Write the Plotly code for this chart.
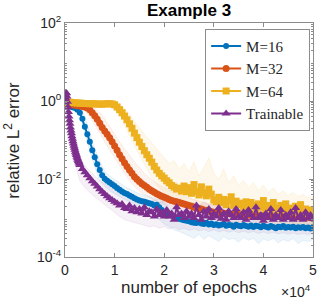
import plotly.graph_objects as go

# ---------------- data ----------------
EPOCHS = list(range(0, 50001, 500))
BAND_EPOCHS = list(range(0, 50001, 1000))
TRAIN_EPOCHS = list(range(0, 3001, 100)) + list(range(3500, 50001, 500))

M16 = [0.80, 0.76, 0.72, 0.69, 0.66, 0.60, 0.50, 0.35, 0.22, 0.14, 0.09,
       0.055, 0.036, 0.024, 0.017, 0.0125, 0.0102, 0.0090, 0.0081, 0.0073, 0.0066,
       0.0059, 0.0053, 0.0048, 0.0044, 0.0041, 0.0038, 0.0035, 0.0032, 0.0030, 0.0028,
       0.0027, 0.0026, 0.0025, 0.0024, 0.0023, 0.0021, 0.0022, 0.0019, 0.0016, 0.0014,
       0.0013, 0.0012, 0.00115, 0.0011, 0.001, 0.00096, 0.00092, 0.00088, 0.00085, 0.00082,
       0.00078, 0.00076, 0.00074, 0.00078, 0.00072, 0.0007, 0.00075, 0.00068, 0.00072, 0.00066,
       0.00069, 0.00064, 0.00067, 0.0007, 0.00063, 0.00066, 0.00065, 0.0006, 0.00067, 0.00063,
       0.00061, 0.00066, 0.00062, 0.0006, 0.00064, 0.00059, 0.00063, 0.00061, 0.00058, 0.00063,
       0.0006, 0.00057, 0.00062, 0.00059, 0.00055, 0.0006, 0.00058, 0.00062, 0.00056, 0.00059,
       0.00057, 0.0006, 0.00055, 0.00058, 0.00056, 0.00059, 0.00055, 0.00057, 0.00054, 0.00058]

M32 = [0.85, 0.84, 0.82, 0.80, 0.78, 0.76, 0.74, 0.72, 0.70, 0.66, 0.60,
       0.50, 0.42, 0.34, 0.27, 0.21, 0.17, 0.14, 0.115, 0.09, 0.07,
       0.055, 0.042, 0.033, 0.026, 0.021, 0.017, 0.014, 0.0115, 0.0098, 0.0086,
       0.0076, 0.0068, 0.0061, 0.0055, 0.005, 0.0046, 0.0042, 0.0039, 0.0036, 0.0034,
       0.0032, 0.003, 0.0028, 0.0027, 0.0026, 0.0025, 0.0024, 0.0023, 0.0022, 0.0021,
       0.002, 0.0019, 0.0018, 0.00175, 0.0017, 0.0016, 0.00155, 0.0015, 0.00145, 0.0014,
       0.00138, 0.00135, 0.0013, 0.00133, 0.00128, 0.0013, 0.00125, 0.00127, 0.00122, 0.00125,
       0.0012, 0.00123, 0.00118, 0.0012, 0.00117, 0.00119, 0.00115, 0.00118, 0.00113, 0.00116,
       0.00112, 0.00115, 0.0011, 0.00113, 0.00109, 0.00112, 0.00108, 0.0011, 0.00107, 0.0011,
       0.00106, 0.00109, 0.00105, 0.00108, 0.00104, 0.00107, 0.00103, 0.00106, 0.00102, 0.00105]

M64 = [0.90, 0.95, 0.93, 0.91, 0.90, 0.89, 0.88, 0.87, 0.86, 0.86, 0.85,
       0.85, 0.84, 0.84, 0.83, 0.83, 0.84, 0.85, 0.85, 0.84, 0.80,
       0.70, 0.60, 0.50, 0.41, 0.33, 0.26, 0.20, 0.15, 0.115, 0.088,
       0.068, 0.053, 0.042, 0.034, 0.027, 0.021, 0.017, 0.014, 0.012, 0.0105,
       0.009, 0.008, 0.0068, 0.0062, 0.0055, 0.0058, 0.0049, 0.0066, 0.0047, 0.006,
       0.0043, 0.0072, 0.0048, 0.0039, 0.0063, 0.0044, 0.0037, 0.0055, 0.0041, 0.0029,
       0.0026, 0.0034, 0.0025, 0.003, 0.0022, 0.0028, 0.0035, 0.0021, 0.0027, 0.0022,
       0.0024, 0.0019, 0.0026, 0.0018, 0.0025, 0.0021, 0.0017, 0.0023, 0.0019, 0.0028,
       0.0017, 0.0021, 0.0016, 0.0025, 0.0018, 0.0015, 0.0021, 0.0016, 0.0023, 0.0015,
       0.0018, 0.0014, 0.002, 0.0015, 0.0022, 0.0014, 0.0017, 0.0013, 0.0016, 0.0014]

TRAINABLE = [0.9, 1.2, 1.55, 1.6, 1.3, 0.95, 0.7, 0.52, 0.4, 0.32, 0.26,
             0.21, 0.175, 0.148, 0.125, 0.107, 0.093, 0.081, 0.071, 0.063, 0.056,
             0.05, 0.045, 0.041, 0.037, 0.034, 0.031, 0.029, 0.027, 0.025, 0.023,
             0.018, 0.015, 0.0125, 0.0105, 0.0088, 0.0075, 0.0064, 0.0055, 0.0047, 0.0041,
             0.0036, 0.0032, 0.0029, 0.0026,
             0.0024, 0.0021, 0.0023, 0.0018, 0.0017, 0.0021, 0.0015, 0.0018, 0.0014, 0.0017,
             0.0013, 0.0019, 0.0012, 0.0015, 0.0014, 0.0011, 0.0017, 0.0012, 0.0014, 0.0011,
             0.0016, 0.0011, 0.0013, 0.0009, 0.0019, 0.0012, 0.0013, 0.001, 0.0015, 0.0011,
             0.0013, 0.001, 0.0021, 0.0012, 0.0009, 0.0015, 0.0011, 0.0017, 0.001, 0.0013,
             0.0011, 0.0018, 0.00095, 0.0013, 0.0009, 0.0015, 0.0012, 0.001, 0.0017, 0.0011,
             0.001, 0.0014, 0.0009, 0.0016, 0.0012, 0.001, 0.0019, 0.001, 0.0012, 0.00085,
             0.0013, 0.001, 0.0017, 0.0009, 0.0012, 0.001, 0.0016, 0.0009, 0.0012, 0.001,
             0.0014, 0.0009, 0.0018, 0.001, 0.0012, 0.0009, 0.0014, 0.001, 0.0012, 0.00095]

# spread bands (min / max over runs), sampled every 1000 epochs
M16_HI = [0.9, 0.8, 0.75, 0.7, 0.4, 0.15, 0.06, 0.03, 0.016, 0.012, 0.01, 0.008, 0.0065, 0.0055,
          0.0048, 0.0042, 0.0038, 0.0035, 0.0032, 0.003, 0.0025, 0.0018, 0.0016, 0.0014, 0.0013,
          0.0012, 0.0013, 0.0011, 0.0012, 0.001, 0.0011, 0.0012, 0.001, 0.0011, 0.001, 0.0012,
          0.001, 0.0011, 0.0009, 0.001, 0.0011, 0.0009, 0.001, 0.0009, 0.0011, 0.0009, 0.001,
          0.0009, 0.001, 0.0009, 0.001]
M16_LO = [0.7, 0.65, 0.6, 0.45, 0.15, 0.05, 0.02, 0.009, 0.0065, 0.005, 0.0042, 0.0035, 0.003,
          0.0026, 0.0022, 0.0019, 0.0017, 0.0015, 0.0012, 0.0009, 0.0007, 0.0006, 0.0005, 0.00045,
          0.0004, 0.00035, 0.0003, 0.00038, 0.00028, 0.00035, 0.0003, 0.00025, 0.00033, 0.00028,
          0.0003, 0.00024, 0.00032, 0.00027, 0.0003, 0.00022, 0.00029, 0.00026, 0.0003, 0.00023,
          0.00028, 0.00025, 0.0003, 0.00022, 0.00027, 0.00025, 0.00028]
M32_HI = [0.95, 0.9, 0.86, 0.82, 0.8, 0.75, 0.65, 0.5, 0.35, 0.22, 0.14, 0.09, 0.06, 0.04, 0.028,
          0.02, 0.014, 0.011, 0.0085, 0.007, 0.006, 0.0052, 0.0045, 0.004, 0.0036, 0.0032, 0.003,
          0.0027, 0.0025, 0.0023, 0.0021, 0.002, 0.0019, 0.0018, 0.0019, 0.0017, 0.0016, 0.0017,
          0.0015, 0.0016, 0.0015, 0.0014, 0.0016, 0.0014, 0.0015, 0.0013, 0.0015, 0.0014, 0.0013,
          0.0014, 0.0013]
M32_LO = [0.75, 0.72, 0.7, 0.65, 0.55, 0.4, 0.25, 0.15, 0.09, 0.055, 0.035, 0.022, 0.014, 0.009,
          0.0065, 0.005, 0.004, 0.0034, 0.0029, 0.0025, 0.0022, 0.002, 0.0018, 0.0016, 0.0015,
          0.0014, 0.0012, 0.0011, 0.001, 0.00095, 0.0009, 0.00085, 0.0008, 0.00082, 0.00078,
          0.0008, 0.00075, 0.00078, 0.00072, 0.00075, 0.0007, 0.00073, 0.0007, 0.00072, 0.00068,
          0.0007, 0.00067, 0.0007, 0.00066, 0.00069, 0.00066]
M64_HI = [1.0, 1.05, 1.0, 0.98, 0.97, 0.96, 0.95, 0.95, 0.96, 0.97, 0.95, 0.85, 0.65, 0.45, 0.3,
          0.2, 0.14, 0.1, 0.07, 0.05, 0.035, 0.025, 0.03, 0.018, 0.025, 0.015, 0.028, 0.012, 0.02,
          0.035, 0.014, 0.01, 0.018, 0.008, 0.012, 0.007, 0.009, 0.006, 0.008, 0.005, 0.007, 0.0045,
          0.006, 0.004, 0.005, 0.0038, 0.0045, 0.0035, 0.004, 0.0033, 0.0035]
M64_LO = [0.8, 0.85, 0.83, 0.8, 0.78, 0.76, 0.75, 0.74, 0.74, 0.72, 0.65, 0.45, 0.25, 0.13, 0.07,
          0.04, 0.024, 0.014, 0.009, 0.006, 0.0045, 0.0035, 0.003, 0.0028, 0.0026, 0.0025, 0.0024,
          0.0022, 0.0021, 0.0018, 0.0016, 0.0014, 0.0013, 0.0012, 0.0011, 0.00105, 0.001, 0.00095,
          0.0009, 0.00088, 0.00085, 0.00082, 0.0008, 0.00078, 0.00076, 0.00075, 0.00073, 0.00072,
          0.0007, 0.0007, 0.00068]
TR_HI = [1.8, 0.35, 0.08, 0.035, 0.022, 0.016, 0.012, 0.009, 0.0075, 0.0062, 0.0052, 0.0045, 0.004,
         0.0035, 0.0033, 0.003, 0.0032, 0.0027, 0.0029, 0.0025, 0.0028, 0.0024, 0.0026, 0.0023,
         0.0027, 0.0022, 0.0025, 0.0021, 0.0026, 0.0022, 0.0024, 0.002, 0.0025, 0.0021, 0.0023,
         0.002, 0.0024, 0.0021, 0.0022, 0.0019, 0.0023, 0.002, 0.0022, 0.0019, 0.0021, 0.0019,
         0.0022, 0.0019, 0.0021, 0.0019, 0.002]
TR_LO = [0.6, 0.12, 0.025, 0.009, 0.006, 0.0045, 0.0035, 0.0028, 0.0022, 0.0018, 0.0014, 0.0011,
         0.0009, 0.0008, 0.00075, 0.0007, 0.00065, 0.0006, 0.00062, 0.00055, 0.0006, 0.00052,
         0.00058, 0.0005, 0.00055, 0.00048, 0.00052, 0.00047, 0.0005, 0.00045, 0.0005, 0.00044,
         0.00048, 0.00043, 0.00047, 0.00042, 0.00046, 0.00042, 0.00045, 0.0004, 0.00044, 0.0004,
         0.00043, 0.00039, 0.00042, 0.00039, 0.00041, 0.00038, 0.0004, 0.00038, 0.0004]

X_TICKS = [0, 10000, 20000, 30000, 40000, 50000]
X_TICKTEXT = ["0", "1", "2", "3", "4", "5"]
Y_TICKS = [1e-4, 1e-2, 1e0, 1e2]
Y_TICKTEXT = ["10<sup>-4</sup>", "10<sup>-2</sup>", "10<sup>0</sup>", "10<sup>2</sup>"]

# ---------------- figure ----------------
C16, C32, C64, CTR = "#0072BD", "#D95319", "#EDB120", "#7E2F8E"

series = [
    ("M=16", M16, EPOCHS, M16_HI, M16_LO, C16, "rgba(0,114,189,0.07)", "rgba(0,114,189,0.14)", "circle", 6),
    ("M=32", M32, EPOCHS, M32_HI, M32_LO, C32, "rgba(217,83,25,0.07)", "rgba(217,83,25,0.14)", "circle", 7),
    ("M=64", M64, EPOCHS, M64_HI, M64_LO, C64, "rgba(237,177,32,0.09)", "rgba(237,177,32,0.18)", "square", 7),
    ("Trainable", TRAINABLE, TRAIN_EPOCHS, TR_HI, TR_LO, CTR, "rgba(126,47,142,0.07)", "rgba(126,47,142,0.14)", "triangle-up", 8),
]

fig = go.Figure()
for name, vals, ep, hi, lo, col, fillc, edgec, sym, msz in series:
    fig.add_trace(go.Scatter(
        x=BAND_EPOCHS + BAND_EPOCHS[::-1], y=hi + lo[::-1],
        fill="toself", fillcolor=fillc, mode="lines",
        line=dict(color=edgec, width=0.6), hoverinfo="skip", showlegend=False))

for name, vals, ep, hi, lo, col, fillc, edgec, sym, msz in series:
    fig.add_trace(go.Scatter(
        x=ep, y=vals, name=name, mode="lines+markers",
        line=dict(color=col, width=2),
        marker=dict(symbol=sym, size=msz, color=col, line=dict(width=0))))

axis_common = dict(showline=True, linecolor="#8c8c8c", linewidth=1, mirror="ticks",
                   ticks="inside", tickcolor="#8c8c8c", showgrid=False, zeroline=False,
                   automargin=False,
                   tickfont=dict(family="Liberation Sans, Arial", size=14, color="#262626"))

fig.update_layout(
    width=319, height=303,
    margin=dict(l=65, r=6, t=22.5, b=45.5, autoexpand=False),
    paper_bgcolor="white", plot_bgcolor="white",
    showlegend=True,
    legend=dict(x=0.565, y=0.975, xanchor="left", yanchor="top",
                bgcolor="white", bordercolor="#8c8c8c", borderwidth=1,
                font=dict(family="Liberation Serif, Times New Roman", size=15, color="#262626"),
                itemwidth=30, tracegroupgap=0),
    xaxis=dict(range=[0, 50000], tickvals=X_TICKS, ticktext=X_TICKTEXT, ticklen=4, **axis_common),
    yaxis=dict(type="log", range=[-4, 2], tickvals=Y_TICKS, ticktext=Y_TICKTEXT, ticklen=4,
               minor=dict(tickvals=[m * 10 ** k for k in range(-4, 2) for m in range(2, 10)],
                          ticks="inside", ticklen=2, tickcolor="#8c8c8c"),
               **axis_common),
    annotations=[
        dict(text="<b>Example 3</b>", xref="paper", yref="paper", x=0.5, y=1.0, yshift=13,
             xanchor="center", yanchor="middle", showarrow=False,
             font=dict(family="Liberation Sans, Arial", size=17, color="#000000")),
        dict(text="number of epochs", xref="paper", yref="paper", x=0.5, y=-0.13,
             xanchor="center", yanchor="middle", showarrow=False,
             font=dict(family="Liberation Sans, Arial", size=17, color="#262626")),
        dict(text="×10<sup>4</sup>", xref="paper", yref="paper", x=1.0, y=-0.145,
             xanchor="right", yanchor="middle", showarrow=False,
             font=dict(family="Liberation Sans, Arial", size=14, color="#262626")),
        dict(text="relative L<sup>2</sup> error", xref="paper", yref="paper", x=-0.215, y=0.5,
             xanchor="center", yanchor="middle", showarrow=False, textangle=-90,
             font=dict(family="Liberation Sans, Arial", size=17, color="#262626")),
    ],
)

fig.write_html("out.html", config={"displayModeBar": False},
               post_script="document.body.style.margin='0px';document.body.style.overflow='hidden';")
